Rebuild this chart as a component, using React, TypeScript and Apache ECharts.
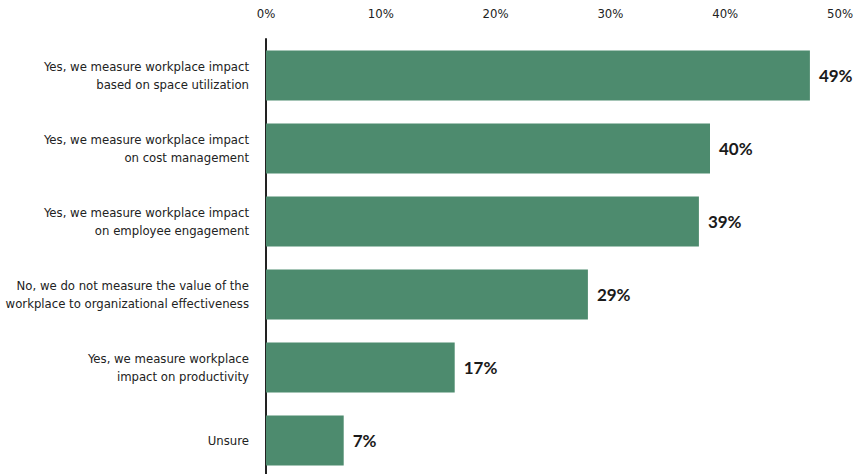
import React, { useEffect, useRef } from "react";
import * as echarts from "echarts";

const categories = [
  "Yes, we measure workplace impact\nbased on space utilization",
  "Yes, we measure workplace impact\non cost management",
  "Yes, we measure workplace impact\non employee engagement",
  "No, we do not measure the value of the\nworkplace to organizational effectiveness",
  "Yes, we measure workplace\nimpact on productivity",
  "Unsure",
];
const values = [49, 40, 39, 29, 17, 7];
const tickValues = [0, 10, 20, 30, 40, 50];

const FONT = "'DejaVu Sans Condensed', sans-serif";

export default function App() {
  const ref = useRef<HTMLDivElement>(null);
  useEffect(() => {
    if (!ref.current) return;
    const chart = echarts.init(ref.current, null, { renderer: "svg" });
    chart.setOption({
      animation: false,
      backgroundColor: "#ffffff",
      grid: [
        { left: 266, top: 40, width: 574, height: 434, containLabel: false, outerBoundsMode: "none" },
        { left: 266, top: 39, width: 555, height: 438, containLabel: false, outerBoundsMode: "none" },
      ],
      xAxis: [
        {
          type: "value",
          gridIndex: 0,
          position: "top",
          min: tickValues[0],
          max: tickValues[tickValues.length - 1],
          interval: 10,
          axisLine: { show: false },
          axisTick: { show: false },
          splitLine: { show: false },
          axisLabel: {
            formatter: (v: number) => v + "%",
            color: "#222",
            fontFamily: FONT,
            fontSize: 13,
            margin: 20,
          },
        },
        {
          type: "value",
          gridIndex: 1,
          min: 0,
          max: 50,
          show: false,
        },
      ],
      yAxis: [
        {
          type: "category",
          gridIndex: 0,
          data: categories,
          show: false,
        },
        {
          type: "category",
          gridIndex: 1,
          inverse: true,
          data: categories,
          axisLine: { show: true, onZero: false, lineStyle: { color: "#222", width: 2 } },
          axisTick: { show: false },
          axisLabel: {
            color: "#222",
            fontFamily: FONT,
            fontSize: 13,
            lineHeight: 18,
            margin: 17,
            align: "right",
          },
        },
      ],
      series: [
        {
          type: "bar",
          xAxisIndex: 1,
          yAxisIndex: 1,
          data: values,
          barWidth: 50,
          itemStyle: { color: "#4d8b6e" },
          label: {
            show: true,
            position: "right",
            distance: 9,
            formatter: (p: any) => p.value + "%",
            color: "#1a1a1a",
            fontFamily: "Lato, sans-serif",
            fontWeight: "bold",
            fontSize: 17,
          },
        },
      ],
    });
    return () => chart.dispose();
  }, []);
  return <div ref={ref} style={{ width: 864, height: 474, position: "absolute", left: 0, top: 0 }} />;
}
